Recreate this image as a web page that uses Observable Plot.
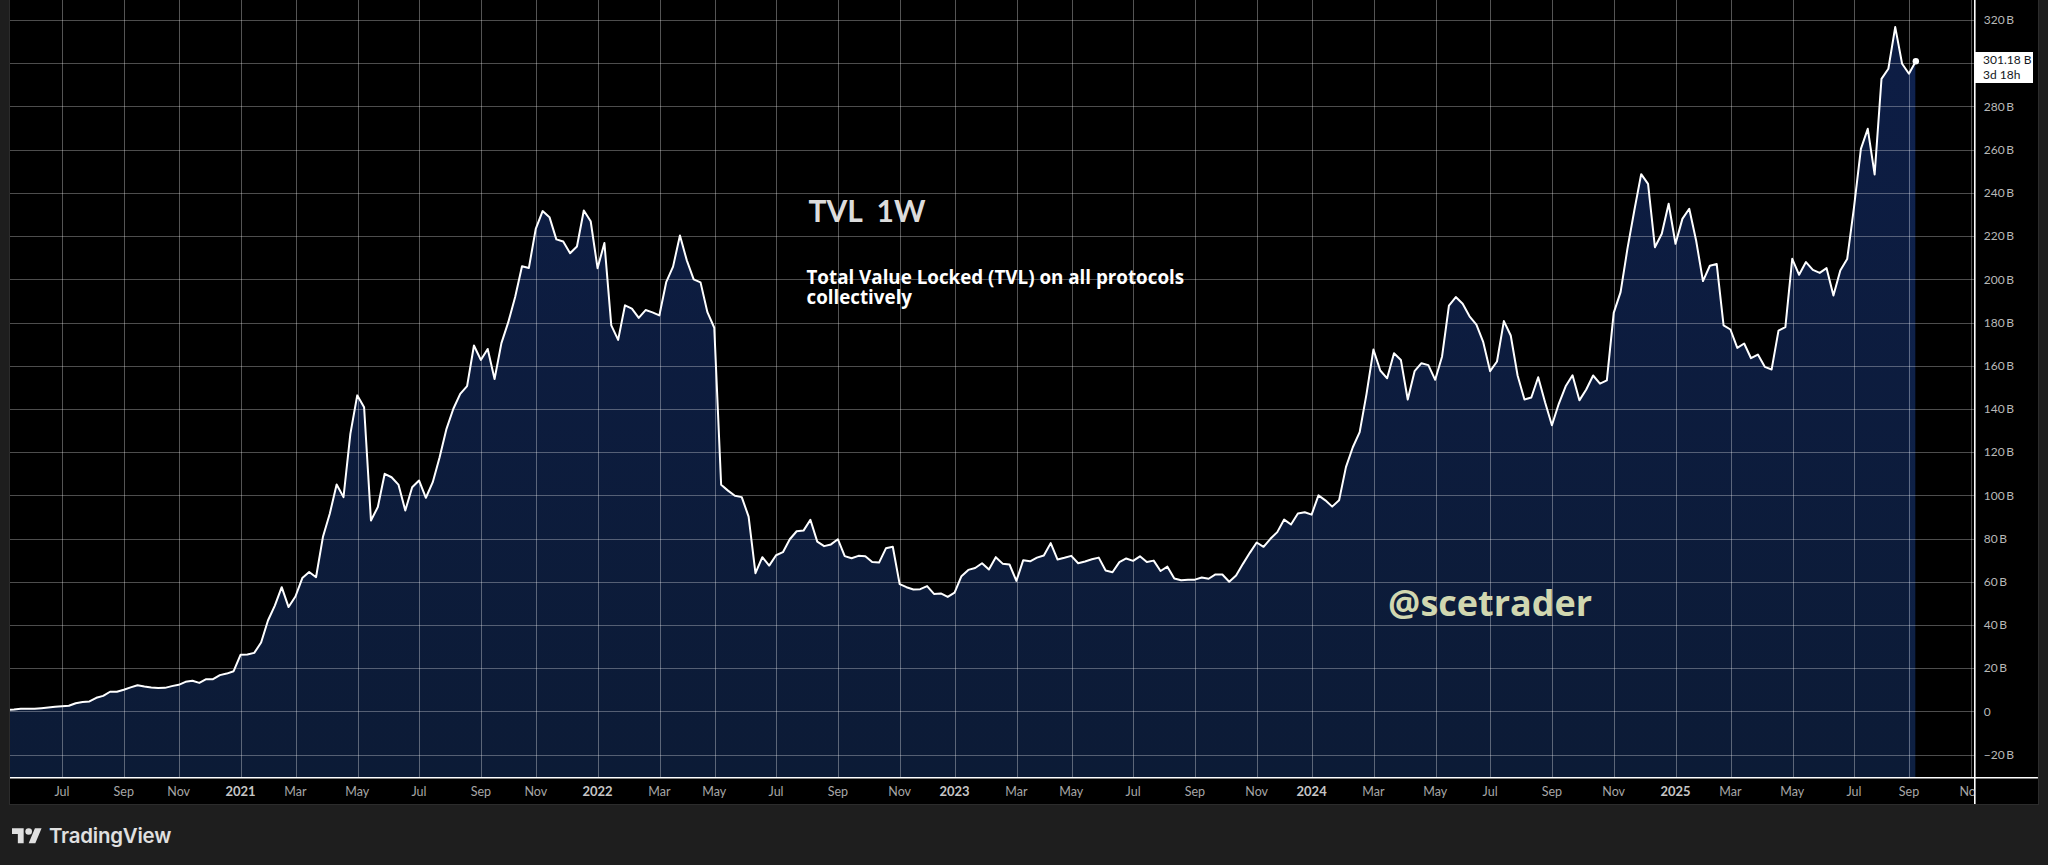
<!DOCTYPE html>
<html>
<head>
<meta charset="utf-8">
<script src="https://cdn.jsdelivr.net/npm/d3@7"></script>
<script src="https://cdn.jsdelivr.net/npm/@observablehq/plot@0.6"></script>
<style>
  html, body { margin: 0; padding: 0; width: 2048px; height: 865px; background: #1e1e1e; overflow: hidden; }
  #chart { position: absolute; left: 10px; top: 0; width: 2028px; height: 804px; background: #000; box-shadow: 0 0 0 1px #2c2c2c; }
  #chart svg { display: block; }
  #badge { position: absolute; left: 1975px; top: 52px; width: 58px; height: 31px; background: #fff; color: #131722;
           font: 12px/14.5px Lato, sans-serif; padding: 1px 0 0 8px; box-sizing: border-box; white-space: nowrap; }
  #brand { position: absolute; left: 12px; top: 825px; height: 22px; display: flex; align-items: center; color: #e0e0e0; }
  #brand svg { width: 30px; height: 15.3px; display: block; }
  #brand span { font: 600 20.4px/22px Inter, sans-serif; margin-left: 7px; letter-spacing: -0.2px; }
</style>
</head>
<body>
<div id="chart"></div>
<div id="badge">301.18 B<br>3d 18h</div>
<div id="brand">
  <svg viewBox="0 4 36 18"><path fill="currentColor" d="M14 22H7V11H0V4h14v18zM28 22h-8l7.5-18h8L28 22z"/><circle fill="currentColor" cx="20" cy="8" r="4"/></svg>
  <span>TradingView</span>
</div>
<script>
// Weekly TVL in billions, one value per week, starting the week of 2020-05-11
const firstWeek = Date.UTC(2020, 4, 11);
const tvl = [
  0.9,1.1,1.4,1.4,1.4,1.7,2.0,2.3,
  2.6,2.8,4.0,4.5,4.8,6.5,7.4,9.3,9.3,10.2,
  11.3,12.3,11.7,11.3,11.0,11.1,11.9,12.5,13.9,14.4,
  13.4,15.1,15.1,17.0,17.7,18.8,26.4,26.5,27.3,32.1,
  42.3,49.2,57.7,48.5,53.4,61.9,64.7,62.3,80.9,91.7,
  105.2,99.4,128.7,146.5,141.0,88.6,94.8,110.2,108.6,105.2,
  93.2,104.0,107.1,99.1,106.3,117.9,131.0,140.3,147.2,150.8,
  169.6,162.9,168.0,154.1,170.7,180.4,192.0,206.3,205.5,223.6,
  231.8,229.0,218.7,217.7,212.3,215.4,232.1,227.1,205.4,217.0,
  178.9,172.2,188.2,186.7,182.4,186.0,184.9,183.5,198.9,206.1,
  220.5,209.0,200.2,198.8,185.0,177.8,105.1,102.4,100.0,99.4,
  90.4,64.2,71.6,67.7,72.5,73.9,79.9,83.6,83.9,88.9,
  78.8,76.7,77.5,79.9,72.1,71.1,72.2,72.0,69.4,69.1,
  75.7,76.4,59.1,57.7,56.6,56.8,58.2,54.6,54.8,53.2,
  55.2,62.8,65.7,66.6,68.8,65.9,71.6,68.6,68.2,60.6,
  70.2,69.7,71.4,72.4,78.1,70.5,71.3,72.2,68.8,69.6,
  70.6,71.4,65.4,64.6,69.3,71.0,69.9,72.0,69.4,70.0,
  65.2,67.2,61.7,60.9,61.1,61.2,62.2,61.6,63.6,63.6,
  60.2,63.1,68.5,73.6,78.4,76.4,80.1,83.2,89.0,86.7,
  91.8,92.4,91.3,100.2,97.9,95.0,97.9,113.3,122.5,129.5,
  147.2,167.7,158.0,154.4,166.0,162.9,144.6,157.7,161.4,160.5,
  153.7,164.5,188.1,192.0,188.9,183.1,179.3,171.1,157.7,162.2,
  180.9,174.2,155.7,144.6,145.5,154.9,143.3,132.7,142.6,150.7,
  155.8,144.2,149.2,155.7,151.9,153.4,184.7,194.3,214.4,232.1,
  248.9,244.4,215.1,221.3,235.2,216.7,228.2,232.9,218.2,199.4,
  206.5,207.3,178.9,177.0,168.5,170.5,163.7,165.4,159.7,158.5,
  176.5,178.1,209.7,202.3,208.2,204.6,203.2,205.4,192.7,204.3,
  209.6,233.6,260.6,269.9,248.8,293.0,297.7,317.0,300.0,295.4,301.18
];
const monthTicks = ["2020-07-06","2020-09-07","2020-11-02","2021-03-01","2021-05-03","2021-07-05","2021-09-06","2021-11-01",
  "2022-03-07","2022-05-02","2022-07-04","2022-09-05","2022-11-07","2023-03-06","2023-05-01","2023-07-03","2023-09-04","2023-11-06",
  "2024-03-04","2024-05-06","2024-07-01","2024-09-02","2024-11-04","2025-03-03","2025-05-05","2025-07-07","2025-09-01","2025-11-03"];
const monthNames = ["Jul","Sep","Nov","Mar","May","Jul","Sep","Nov","Mar","May","Jul","Sep","Nov","Mar","May","Jul","Sep","Nov",
  "Mar","May","Jul","Sep","Nov","Mar","May","Jul","Sep","Nov"];
const yearTicks = ["2021-01-04","2022-01-03","2023-01-02","2024-01-01","2025-01-06"];
const yearNames = ["2021","2022","2023","2024","2025"];
const gridValues = [-20,0,20,40,60,80,100,120,140,160,180,200,220,240,260,280,300,320];
const labelValues = [-20,0,20,40,60,80,100,120,140,160,180,200,220,240,260,280,320];

const series = tvl.map((v, i) => ({date: new Date(firstWeek + i * 7 * 864e5), v}));
const months = monthTicks.map((d, i) => ({date: new Date(d), label: monthNames[i]}));
const years = yearTicks.map((d, i) => ({date: new Date(d), label: yearNames[i]}));
const allTicks = [...months, ...years];

const xStart = new Date("2020-05-14T12:00Z"), xEnd = new Date("2025-11-07T03:00Z"), xPanel = new Date("2026-01-11T00:00Z");
const yFloor = -30.55, yTop = 329.3, yBottom = -42.9, yLabel = -37;
const font = "Lato, 'Open Sans', sans-serif";

const chart = Plot.plot({
  width: 2028, height: 804,
  marginTop: 0, marginBottom: 0, marginLeft: 0, marginRight: 63.7,
  style: {background: "#000", fontFamily: font},
  x: {type: "utc", domain: [xStart, xEnd], axis: null},
  y: {domain: [yBottom, yTop], axis: null},
  marks: [
    () => d3.create("svg:defs").html(
      `<linearGradient id="fillGrad" x1="0" y1="0" x2="0" y2="1">
         <stop offset="0" stop-color="#0d1d45"/><stop offset="1" stop-color="#0c1b36"/>
       </linearGradient>`).node(),
    Plot.areaY(series, {x: "date", y1: yFloor, y2: "v", fill: "url(#fillGrad)", clip: true}),
    Plot.areaY(series.slice(-2), {x: "date", y1: yFloor, y2: "v", fill: "#2a4aa8", fillOpacity: 0.1}),
    Plot.ruleY(gridValues, {stroke: "#fff", strokeOpacity: 0.3, strokeWidth: 1, shapeRendering: "crispEdges"}),
    Plot.ruleX(allTicks, {x: "date", y1: yFloor, y2: yTop, dx: 0.8, stroke: "#fff", strokeOpacity: 0.33, strokeWidth: 1, shapeRendering: "crispEdges"}),
    Plot.ruleX([xEnd], {y1: yBottom, y2: yTop, stroke: "#fff", strokeWidth: 1.6}),
    Plot.ruleY([yFloor], {x1: xStart, x2: xPanel, stroke: "#fff", strokeWidth: 1.4}),
    Plot.lineY(series, {x: "date", y: "v", stroke: "#fff", strokeWidth: 2, clip: true}),
    Plot.dot(series.slice(-1), {x: "date", y: "v", r: 3.2, fill: "#fff"}),
    Plot.text(months, {x: "date", y: yLabel, text: "label", fill: "#a7a7a7", fontSize: 12.5, clip: true}),
    Plot.text(years, {x: "date", y: yLabel, text: "label", fill: "#c6c6c6", fontSize: 13, fontWeight: 700}),
    Plot.axisY(labelValues, {anchor: "right", tickSize: 0, tickPadding: 9, label: null, fontSize: 12, fill: "#b8b8b8",
      tickFormat: d => d === 0 ? "0" : (d < 0 ? "\u2212" + (-d) : d) + "\u2009B"}),
    Plot.text(["TVL  1W"], {x: new Date("2022-08-06"), y: 231, text: d => d, textAnchor: "start", fill: "#dcdcdc", fontSize: 30, fontWeight: 700}),
    Plot.text(["Total Value Locked (TVL) on all protocols\ncollectively"], {x: new Date("2022-08-04"), y: 196.2, fontFamily: "'Open Sans', sans-serif", text: d => d, textAnchor: "start", fill: "#fff", fontSize: 18.8, fontWeight: 700, lineHeight: 1.06}),
    Plot.text(["@scetrader"], {x: new Date("2024-03-19"), y: 49.5, fontFamily: "'Open Sans', sans-serif", text: d => d, textAnchor: "start", fill: "#d1d7b0", fontSize: 36, fontWeight: 700})
  ]
});
document.getElementById("chart").append(chart);
</script>
</body>
</html>
